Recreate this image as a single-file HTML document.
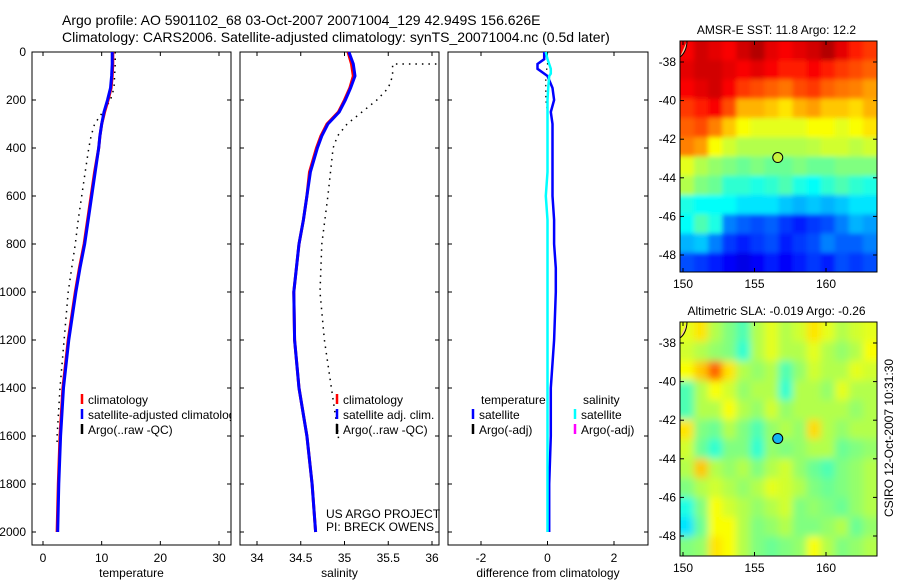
<!DOCTYPE html>
<html><head><meta charset="utf-8"><style>
body{margin:0;background:#fff;}
svg{display:block;font-family:"Liberation Sans",sans-serif;}
text{font-size:12px;fill:#000;}
</style></head><body>
<svg id="c" width="900" height="580" xmlns="http://www.w3.org/2000/svg">
<defs>
<filter id="b1" x="-5%" y="-5%" width="110%" height="110%"><feGaussianBlur stdDeviation="2.5"/></filter>
<filter id="b2" x="-5%" y="-5%" width="110%" height="110%"><feGaussianBlur stdDeviation="4"/></filter>
</defs>
<text x="62" y="25" style="font-size:14px">Argo profile: AO 5901102_68 03-Oct-2007 20071004_129 42.949S 156.626E</text>
<text x="62" y="42" style="font-size:14px">Climatology: CARS2006. Satellite-adjusted climatology: synTS_20071004.nc (0.5d later)</text>
<g id="g"></g>
</svg>
<script>
const depths=[0,50,100,150,200,250,300,350,400,500,600,700,800,900,1000,1200,1400,1600,1800,2000];
const tempClim=[11.9,11.9,11.8,11.6,11.1,10.5,10.0,9.7,9.5,8.8,8.2,7.6,7.0,6.2,5.5,4.3,3.4,2.9,2.6,2.4];
const tempSat=[11.8,11.8,11.7,11.5,11.0,10.4,10.0,9.7,9.5,8.9,8.3,7.7,7.1,6.3,5.6,4.4,3.5,3.0,2.7,2.5];
const argoDepths=[0,50,100,150,200,250,300,350,400,500,600,700,800,900,1000,1200,1400,1600,1640];
const tempArgo=[12.3,12.3,12.2,12.1,11.5,10.2,8.8,8.2,7.8,7.2,6.6,6.0,5.5,4.9,4.3,3.6,2.9,2.4,2.4];
const salClim=[35.04,35.08,35.1,35.06,35.0,34.93,34.8,34.73,34.68,34.6,34.57,34.53,34.48,34.45,34.42,34.43,34.48,34.57,34.63,34.67];
const salSat=[35.05,35.1,35.12,35.07,35.01,34.94,34.81,34.74,34.69,34.61,34.57,34.53,34.48,34.45,34.42,34.43,34.48,34.57,34.63,34.67];
const salArgoDepths=[50,50,60,100,150,200,250,300,350,400,600,800,1000,1200,1400,1600,1620];
const salArgo=[36.05,35.55,35.55,35.55,35.5,35.37,35.2,35.03,34.92,34.87,34.81,34.74,34.72,34.77,34.85,34.93,34.93];
const diffDepths=[0,30,50,70,90,100,150,200,250,300,400,500,600,700,800,900,1000,1200,1400,1600,1800,2000];
const diffTemp=[-0.1,-0.1,-0.3,-0.3,-0.1,0.0,0.15,0.2,0.1,0.15,0.15,0.15,0.15,0.2,0.2,0.25,0.25,0.2,0.1,0.1,0.05,0.05];
const diffSal=[-0.05,0.0,0.05,0.1,0.1,0.05,0.02,0.0,0.0,0.0,0.0,0.0,-0.05,0.0,0.0,0.0,0.0,0.0,0.0,0.0,0.0,0.0];
const diffArgoDepths=[0,50,100,150,200,250,300];
const diffArgo=[0.0,0.0,-0.05,-0.05,-0.05,0.0,0.0];
const depthTicks=[0,200,400,600,800,1000,1200,1400,1600,1800,2000];
const tempTicks=[0,10,20,30];
const salTicks=[34,34.5,35,35.5,36];
const diffTicks=[-2,0,2];
const lonTicks=[150,155,160];
const latTicks=[-38,-40,-42,-44,-46,-48];
const sstGrid=[
[88,92,90,88,92,95,90,88,90,92,95,90,85,82],
[90,92,92,90,88,90,88,85,85,88,85,82,80,78],
[88,90,92,88,82,80,78,76,80,82,78,76,75,72],
[82,85,88,80,70,70,68,65,70,72,68,68,66,70],
[78,80,75,68,62,60,60,60,60,62,62,60,62,65],
[75,72,62,58,55,55,55,55,55,56,58,58,56,58],
[60,55,52,50,48,50,48,48,50,48,48,50,50,50],
[55,50,48,42,42,40,42,45,40,38,42,45,42,40],
[40,38,38,38,35,35,35,32,30,32,30,32,35,35],
[38,45,40,25,22,20,22,18,15,18,20,25,30,28],
[30,32,25,18,15,18,20,15,18,20,25,22,22,25],
[20,18,15,12,10,12,15,12,15,18,15,20,18,20]];
const slaGrid=[
[60,65,55,50,45,55,60,55,58,65,60,55,58,60],
[58,55,52,50,42,55,60,55,55,60,55,52,55,62],
[62,68,78,65,55,52,55,45,52,58,55,55,60,58],
[45,55,62,58,52,55,55,42,55,55,52,60,55,55],
[45,55,55,62,55,52,58,52,55,55,55,55,52,55],
[65,50,48,55,50,45,52,55,52,66,55,52,55,55],
[58,48,42,50,50,42,52,50,52,55,55,48,50,52],
[55,68,55,52,55,50,55,58,52,48,45,50,52,55],
[50,55,58,55,52,55,60,58,55,50,48,50,52,55],
[40,50,62,58,55,52,55,58,50,52,50,48,52,55],
[35,48,62,62,55,50,52,55,50,50,52,55,48,52],
[50,52,65,62,55,50,48,50,52,62,55,50,52,55]];
const argoLon=156.626, argoLat=-42.949;

const NS='http://www.w3.org/2000/svg';
const G=document.getElementById('g');
function el(t,a,p){const e=document.createElementNS(NS,t);for(const k in a)e.setAttribute(k,a[k]);(p||G).appendChild(e);return e;}
function txt(x,y,s,anchor,p){const e=el('text',{x:x,y:y,'text-anchor':anchor||'start'},p);e.textContent=s;return e;}
function lin(d0,d1,p0,p1){return v=>p0+(v-d0)/(d1-d0)*(p1-p0);}
const yD=lin(0,2000,52,532);
function jet(v){v=Math.max(0,Math.min(1,v));const r=Math.max(0,Math.min(1,1.5-Math.abs(4*v-3))),g=Math.max(0,Math.min(1,1.5-Math.abs(4*v-2))),b=Math.max(0,Math.min(1,1.5-Math.abs(4*v-1)));return `rgb(${Math.round(r*255)},${Math.round(g*255)},${Math.round(b*255)})`;}

function panel(name,x0,x1,xs,xticks,label,leftLabels){
  const g=el('g',{});
  
  
  const r=el('rect',{x:x0,y:52,width:x1-x0,height:493,fill:'none',stroke:'#000'},g);
  
  
  depthTicks.forEach(d=>{const y=yD(d);el('line',{x1:x0,x2:x0+4,y1:y,y2:y,stroke:'#000'},g);el('line',{x1:x1,x2:x1-4,y1:y,y2:y,stroke:'#000'},g);
    if(leftLabels){const t=txt(x0-6,y+4,String(d),'end',g);}});
  xticks.forEach(v=>{const x=xs(v);el('line',{x1:x,x2:x,y1:545,y2:541,stroke:'#000'},g);el('line',{x1:x,x2:x,y1:52,y2:56,stroke:'#000'},g);
    const t=txt(x,562,String(v),'middle',g);});
  const t=txt((x0+x1)/2,577,label,'middle',g);
  return g;
}
function series(g,name,xs,vals,ds,color,w,dash){
  const pts=vals.map((v,i)=>xs(v).toFixed(1)+','+yD(ds[i]).toFixed(1)).join(' ');
  const p=el('polyline',{points:pts,fill:'none',stroke:color,'stroke-width':w,'stroke-dasharray':dash||'none'},g);
  
  
}
function legend(g,x,y,items){
  items.forEach((it,i)=>{const yy=y+i*15;const l=el('line',{x1:x,x2:x,y1:yy-10,y2:yy,stroke:it[1],'stroke-width':2.5},g);
    
    const t=txt(x+6,yy,it[0],'start',g);});
}
const xT=lin(0,30,43,219);
const gT=panel('temperature-panel',32,231,xT,tempTicks,'temperature',true);
series(gT,'temp-argo-line',xT,tempArgo,argoDepths,'#000',1.5,'1.5,5');
series(gT,'temp-climatology-line',xT,tempClim,depths,'#f00',3);
series(gT,'temp-satellite-line',xT,tempSat,depths,'#00f',3);
const clipT=el('clipPath',{id:'ct'});el('rect',{x:32,y:52,width:199,height:493},clipT);
const lgT=el('g',{'clip-path':'url(#ct)'},gT);
legend(lgT,82,404,[['climatology','#f00'],['satellite-adjusted climatology','#00f'],['Argo(..raw -QC)','#000']]);
const xS=lin(34,36,257,432);
const gS=panel('salinity-panel',240,439,xS,salTicks,'salinity',false);
series(gS,'sal-argo-line',xS,salArgo,salArgoDepths,'#000',1.5,'1.5,5');
series(gS,'sal-climatology-line',xS,salClim,depths,'#f00',3);
series(gS,'sal-satellite-line',xS,salSat,depths,'#00f',3);
legend(gS,337,404,[['climatology','#f00'],['satellite adj. clim.','#00f'],['Argo(..raw -QC)','#000']]);
let t=txt(326,518,'US ARGO PROJECT','start',gS);
t=txt(326,531,'PI: BRECK OWENS','start',gS);
const xDf=lin(-2,2,481,614);
const gD=panel('difference-panel',448,648,xDf,diffTicks,'difference from climatology',false);
series(gD,'diff-argo-line',xDf,diffArgo,diffArgoDepths,'#000',1.2,'1.5,4');
series(gD,'diff-temp-satellite-line',xDf,diffTemp,diffDepths,'#00f',2.5);
series(gD,'diff-sal-satellite-line',xDf,diffSal,diffDepths,'#0ff',2.5);
t=txt(481,404,'temperature','start',gD);
t=txt(583,404,'salinity','start',gD);
legend(gD,473,419,[['satellite','#00f'],['Argo(-adj)','#000']]);
legend(gD,575,419,[['satellite','#0ff'],['Argo(-adj)','#f0f']]);
function map(name,y0,y1,grid,title,dotColor,filt){
  const g=el('g',{});
  
  
  const x0=680,x1=877;
  const xL=lin(150,160,683,826);
  const yL=lin(-38,-48,y0+21,y0+214);
  const cw=(x1-x0)/grid[0].length, ch=(y1-y0)/grid.length;
  const cp=el('clipPath',{id:'cp'+name},g);el('rect',{x:x0,y:y0,width:x1-x0,height:y1-y0},cp);
  const cg=el('g',{'clip-path':'url(#cp'+name+')'},g);
  const fg=el('g',{filter:'url(#'+filt+')'},cg);
  grid.forEach((row,j)=>row.forEach((v,i)=>{
    const xx=x0+i*cw-(i==0?10:0), yy=y0+j*ch-(j==0?10:0);
    const ww=cw+0.6+(i==0?10:0)+(i==row.length-1?10:0), hh=ch+0.6+(j==0?10:0)+(j==grid.length-1?10:0);
    const c=el('rect',{x:xx,y:yy,width:ww,height:hh,fill:jet(v/100)},fg);
    }));
  el('path',{d:`M${x0},${y0+16} A12,18 0 0 0 ${x0+7},${y0}`,fill:'#fbc89a',stroke:'#000'},cg);
  el('rect',{x:x0,y:y0,width:x1-x0,height:y1-y0,fill:'none',stroke:'#000'},g);
  lonTicks.forEach(v=>{const x=xL(v);el('line',{x1:x,x2:x,y1:y1,y2:y1-4,stroke:'#000'},g);el('line',{x1:x,x2:x,y1:y0,y2:y0+4,stroke:'#000'},g);
    const tt=txt(x,y1+16,String(v),'middle',g);});
  latTicks.forEach(v=>{const y=yL(v);el('line',{x1:x1,x2:x1-4,y1:y,y2:y,stroke:'#000'},g);el('line',{x1:x0,x2:x0+4,y1:y,y2:y,stroke:'#000'},g);
    const tt=txt(x0-4,y+4,String(v),'end',g);});
  const tt=txt((x0+x1)/2-2,y0-7,title,'middle',g);
  const d=el('circle',{cx:xL(argoLon),cy:yL(argoLat),r:5,fill:dotColor,stroke:'#000'},g);
  
}
map('sst-map',41,272,sstGrid,'AMSR-E SST: 11.8 Argo: 12.2','#c8f23c','b1');
map('sla-map',322,556,slaGrid,'Altimetric SLA: -0.019 Argo: -0.26','#13b4f0','b2');
t=el('text',{x:0,y:0,transform:'translate(893,438) rotate(-90)','text-anchor':'middle'});
t.textContent='CSIRO 12-Oct-2007 10:31:30';


</script>
</body></html>
